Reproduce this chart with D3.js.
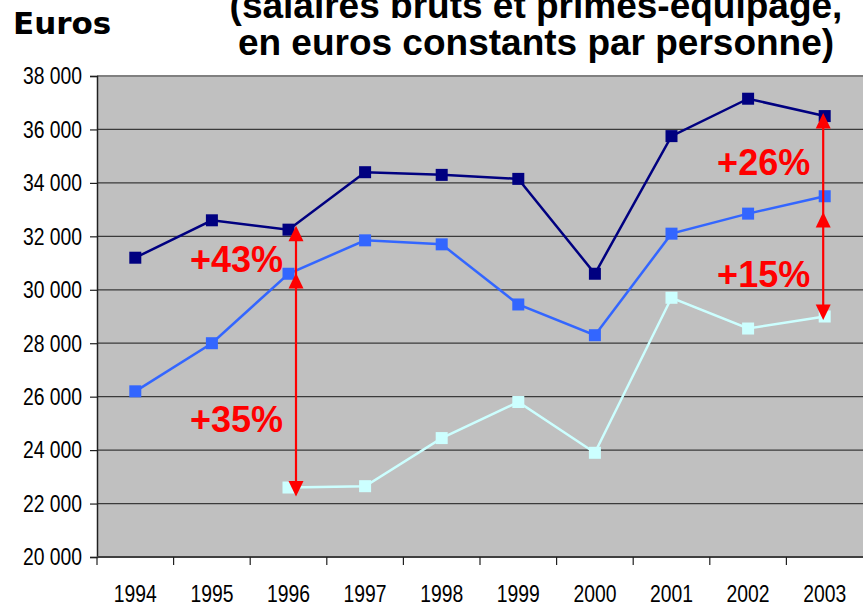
<!DOCTYPE html>
<html>
<head>
<meta charset="utf-8">
<script src="https://cdn.jsdelivr.net/npm/d3@7"></script>
<style>
  html, body { margin: 0; padding: 0; background: #ffffff; }
  svg { display: block; }
</style>
</head>
<body>
<svg id="chart" width="863" height="607"></svg>
<script>
// ---- data ----
const years = ["1994","1995","1996","1997","1998","1999","2000","2001","2002","2003"];
const navyValues = [31200, 32600, 32250, 34400, 34300, 34150, 30600, 35750, 37150, 36500];
const blueValues = [26200, 28000, 30600, 31850, 31700, 29450, 28300, 32100, 32850, 33500];
const cyanValues = [null, null, 22600, 22650, 24450, 25800, 23900, 29700, 28550, 29000];
const yTicks = [20000, 22000, 24000, 26000, 28000, 30000, 32000, 34000, 36000, 38000];
const titleLines = ["(salaires bruts et primes-équipage,", "en euros constants par personne)"];
const yAxisTitle = "Euros";
// annotation arrows: year, bottom tip value, upward tips values
const arrowYears = ["1996", "2003"];
const arrowBottoms = [22260, 28870];
const arrowUpTips = [[32400, 30630], [36620, 32910]];
// percentage labels: text, year, baseline value
const pctTexts = ["+43%", "+35%", "+26%", "+15%"];
const pctYears = ["1996", "1996", "2003", "2003"];
const pctValues = [30660, 24690, 34300, 30110];

// ---- layout ----
const svg = d3.select("#chart");
const plot = { left: 97, top: 76, right: 863, bottom: 557 };

const x = d3.scaleBand().domain(years).range([plot.left, plot.right]);
const y = d3.scaleLinear().domain([20000, 38000]).range([plot.bottom, plot.top]);
const cx = d => x(d) + x.bandwidth() / 2;

// plot background
svg.append("rect")
  .attr("x", plot.left).attr("y", plot.top)
  .attr("width", plot.right - plot.left).attr("height", plot.bottom - plot.top)
  .attr("fill", "#c0c0c0");

// gridlines
svg.append("g").selectAll("line")
  .data(yTicks.filter(t => t > 20000 && t < 38000))
  .join("line")
  .attr("x1", plot.left).attr("x2", plot.right)
  .attr("y1", d => y(d)).attr("y2", d => y(d))
  .attr("stroke", "#3a3a3a").attr("stroke-width", 1.2);

// top border
svg.append("line")
  .attr("x1", plot.left).attr("x2", plot.right)
  .attr("y1", y(38000)).attr("y2", y(38000))
  .attr("stroke", "#808080").attr("stroke-width", 2);

const fmt = v => d3.format(",")(v).replace(",", " ");

// y axis
const yAxis = svg.append("g")
  .attr("transform", `translate(${plot.left},0)`)
  .call(d3.axisLeft(y).tickValues(yTicks).tickSize(7).tickPadding(8).tickFormat(fmt));
yAxis.select(".domain").attr("stroke", "#202020").attr("stroke-width", 1.5);
yAxis.selectAll(".tick line").attr("stroke", "#202020").attr("stroke-width", 1.2);
yAxis.selectAll(".tick text")
  .attr("font-family", "Liberation Sans, Arial, sans-serif")
  .attr("font-size", 23).attr("fill", "#000").attr("dy", "0.34em")
  .each(function() {
    const w = this.getComputedTextLength();
    d3.select(this).attr("textLength", w * 0.84).attr("lengthAdjust", "spacingAndGlyphs");
  });

// x axis: ticks at band boundaries
const xAxisG = svg.append("g");
xAxisG.append("line")
  .attr("x1", plot.left).attr("x2", plot.right)
  .attr("y1", plot.bottom).attr("y2", plot.bottom)
  .attr("stroke", "#404040").attr("stroke-width", 2);
xAxisG.selectAll("line.tk")
  .data(years)
  .join("line").attr("class", "tk")
  .attr("x1", d => x(d)).attr("x2", d => x(d))
  .attr("y1", plot.bottom).attr("y2", plot.bottom + 8)
  .attr("stroke", "#202020").attr("stroke-width", 1.2);
xAxisG.selectAll("text")
  .data(years)
  .join("text")
  .attr("x", d => cx(d)).attr("y", 602)
  .attr("text-anchor", "middle")
  .attr("font-family", "Liberation Sans, Arial, sans-serif")
  .attr("font-size", 23).attr("fill", "#000")
  .text(d => d)
  .each(function() {
    const w = this.getComputedTextLength();
    d3.select(this).attr("textLength", w * 0.84).attr("lengthAdjust", "spacingAndGlyphs");
  });

// series
const series = [
  { values: cyanValues, color: "#ccffff" },
  { values: blueValues, color: "#3366ff" },
  { values: navyValues, color: "#000080" }
];
const line = d3.line()
  .defined(d => d.v !== null)
  .x(d => cx(d.year))
  .y(d => y(d.v));
const ms = 12;
series.forEach(s => {
  const pts = years.map((yr, i) => ({ year: yr, v: s.values[i] }));
  svg.append("path")
    .datum(pts)
    .attr("d", line)
    .attr("fill", "none")
    .attr("stroke", s.color)
    .attr("stroke-width", 2.5);
  svg.append("g").selectAll("rect")
    .data(pts.filter(p => p.v !== null))
    .join("rect")
    .attr("x", d => cx(d.year) - ms / 2)
    .attr("y", d => y(d.v) - ms / 2)
    .attr("width", ms).attr("height", ms)
    .attr("fill", s.color);
});

// arrows
const arrowDx = { "1996": 7.5, "2003": -1.5 };
const red = "#ff0000";
const headW = 15, headH = 15.5;
arrowYears.forEach((yr, i) => {
  const ax = cx(yr) + arrowDx[yr];
  const tops = arrowUpTips[i];
  const bottom = arrowBottoms[i];
  const topVal = d3.max(tops);
  const g = svg.append("g");
  g.append("line")
    .attr("x1", ax).attr("x2", ax)
    .attr("y1", y(topVal) + 4).attr("y2", y(bottom) - 4)
    .attr("stroke", red).attr("stroke-width", 2.2);
  tops.forEach(t => {
    const ty = y(t);
    g.append("path")
      .attr("d", `M${ax},${ty} L${ax - headW / 2},${ty + headH} L${ax + headW / 2},${ty + headH} Z`)
      .attr("fill", red);
  });
  const by = y(bottom);
  g.append("path")
    .attr("d", `M${ax},${by} L${ax - headW / 2},${by - headH} L${ax + headW / 2},${by - headH} Z`)
    .attr("fill", red);
});

// percentage labels
pctTexts.forEach((t, i) => {
  const yr = pctYears[i];
  svg.append("text")
    .attr("x", cx(yr) + arrowDx[yr] - 13)
    .attr("y", y(pctValues[i]))
    .attr("text-anchor", "end")
    .attr("font-family", "Liberation Sans, Arial, sans-serif")
    .attr("font-weight", "bold")
    .attr("font-size", 36)
    .attr("fill", red)
    .text(t);
});

// titles
svg.append("text")
  .attr("x", 13).attr("y", 34)
  .attr("font-family", "DejaVu Sans, Verdana, sans-serif")
  .attr("font-weight", "bold")
  .attr("font-size", 31)
  .attr("fill", "#000")
  .text(yAxisTitle);

svg.append("g").selectAll("text")
  .data(titleLines)
  .join("text")
  .attr("x", 536)
  .attr("y", (d, i) => 18 + i * 37)
  .attr("text-anchor", "middle")
  .attr("font-family", "Liberation Sans, Arial, sans-serif")
  .attr("font-weight", "bold")
  .attr("font-size", 37)
  .attr("fill", "#000")
  .text(d => d);
</script>
</body>
</html>
